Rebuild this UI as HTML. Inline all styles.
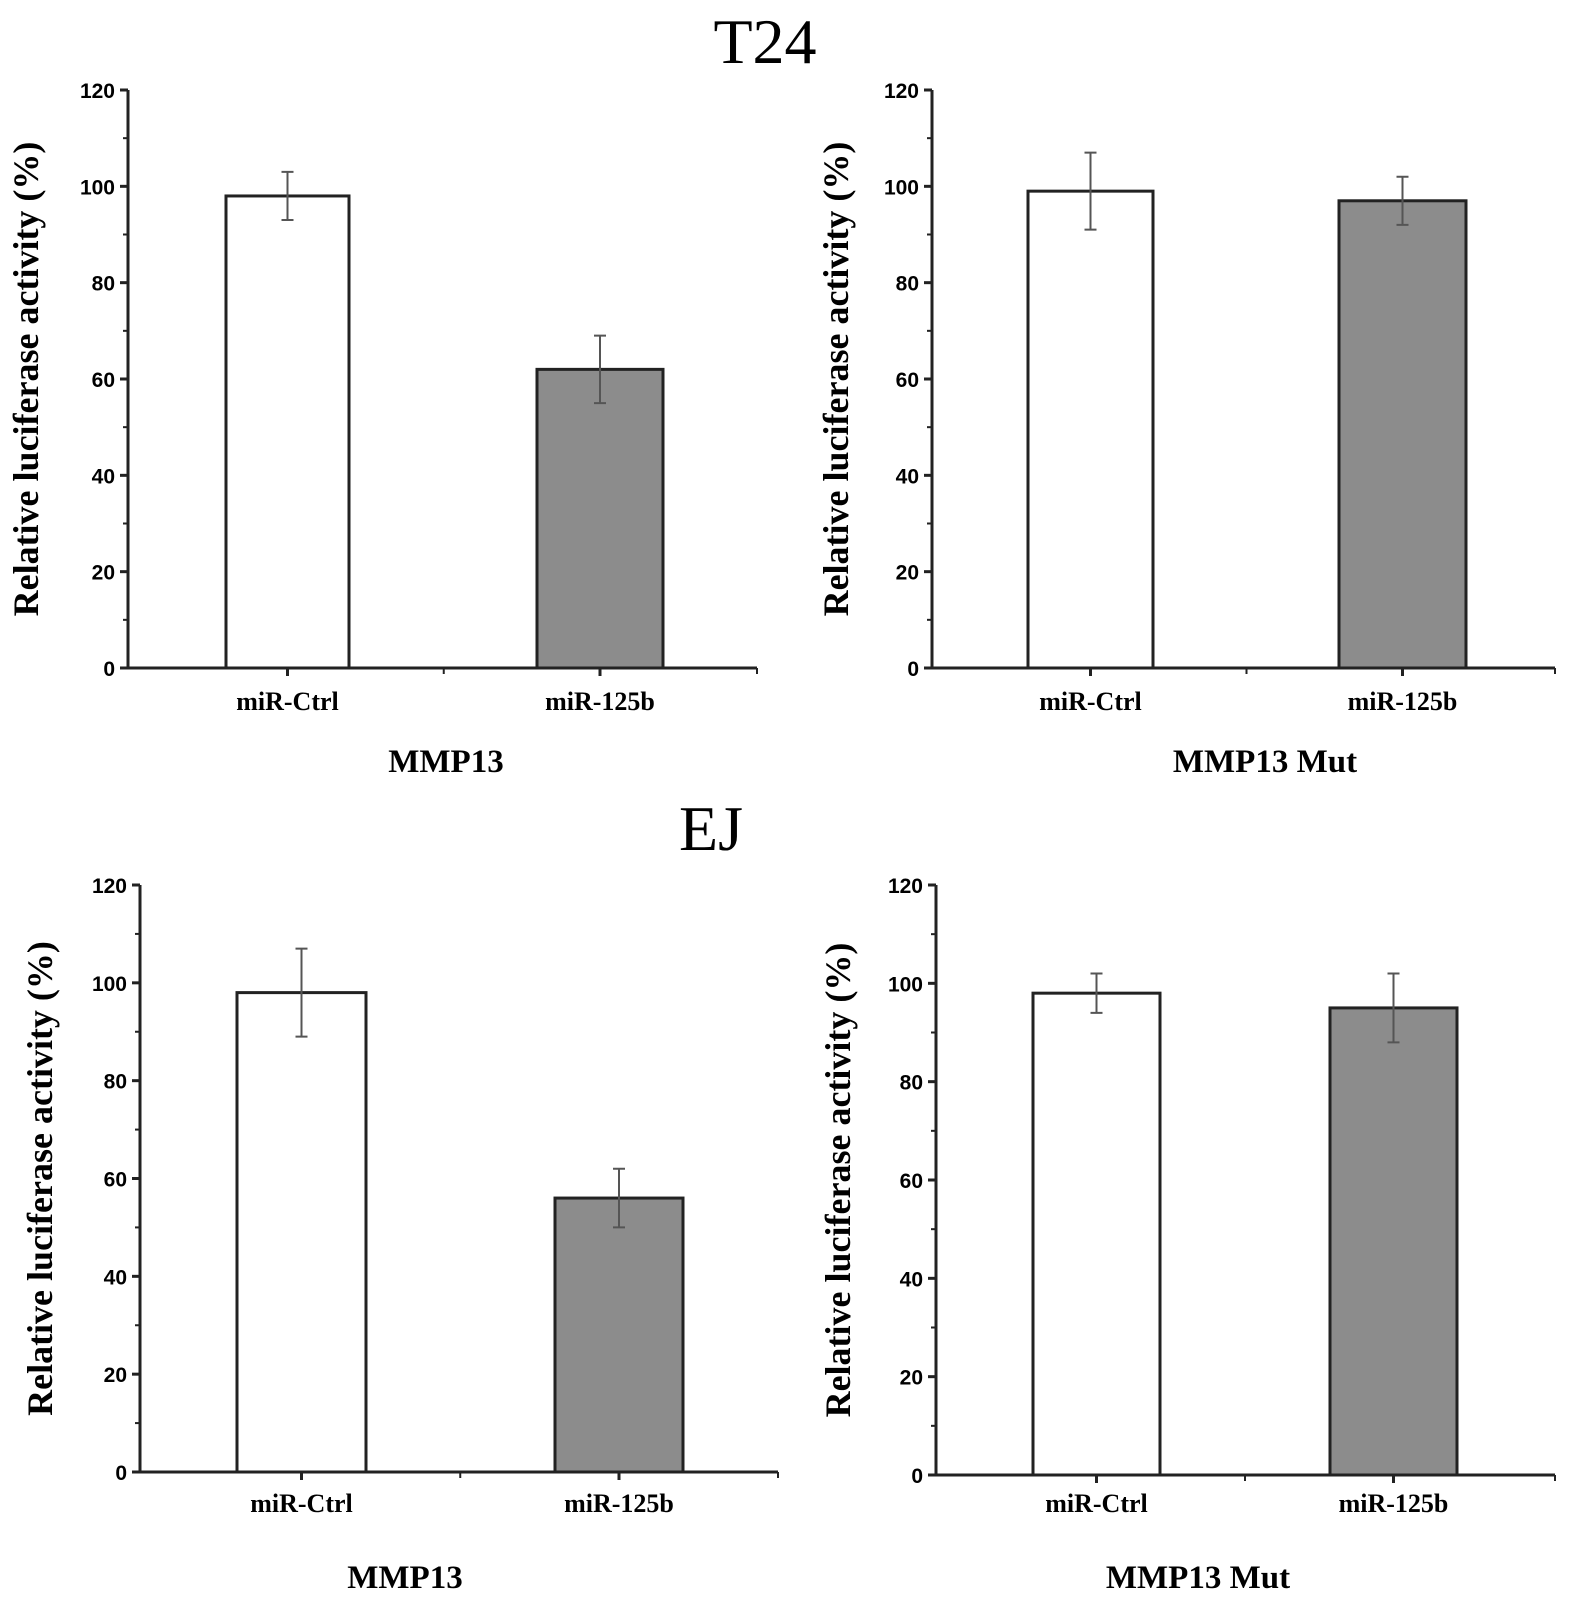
<!DOCTYPE html>
<html><head><meta charset="utf-8"><style>
body{margin:0;background:#fff;}
svg{display:block;}
</style></head><body>
<svg id="fig" width="1592" height="1602" xmlns="http://www.w3.org/2000/svg">
<text x="765" y="63" font-family="Liberation Serif, serif" font-size="64" text-anchor="middle">T24</text>
<text x="711" y="850" font-family="Liberation Serif, serif" font-size="64" text-anchor="middle">EJ</text>
</svg>
<script>
const categories = ["miR-Ctrl", "miR-125b"];
const yTicks = [0, 20, 40, 60, 80, 100, 120];
const t24Values = [98, 62];
const t24Errors = [5, 7];
const t24MutValues = [99, 97];
const t24MutErrors = [8, 5];
const ejValues = [98, 56];
const ejErrors = [9, 6];
const ejMutValues = [98, 95];
const ejMutErrors = [4, 7];
const panelTitles = ["MMP13", "MMP13 Mut", "MMP13", "MMP13 Mut"];

const NS = "http://www.w3.org/2000/svg";
const svg = document.getElementById('fig');
function mk(tag, attrs, parent) {
  const e = document.createElementNS(NS, tag);
  for (const k in attrs) e.setAttribute(k, attrs[k]);
  (parent || svg).appendChild(e);
  return e;
}
const panels = [
  {ax:128, xe:757, y0:668, y120:90, bars:[[226,349],[537,663]], vals:t24Values, errs:t24Errors, ytx:26, title:panelTitles[0], tx:446, ty:772, cy:710, key:'t24-mmp13'},
  {ax:932, xe:1555, y0:668, y120:90, bars:[[1028,1153],[1339,1466]], vals:t24MutValues, errs:t24MutErrors, ytx:836, title:panelTitles[1], tx:1265, ty:772, cy:710, key:'t24-mmp13-mut'},
  {ax:140, xe:778, y0:1472, y120:885, bars:[[237,366],[555,683]], vals:ejValues, errs:ejErrors, ytx:40, title:panelTitles[2], tx:405, ty:1588, cy:1512, key:'ej-mmp13'},
  {ax:936, xe:1555, y0:1475, y120:885, bars:[[1033,1160],[1330,1457]], vals:ejMutValues, errs:ejMutErrors, ytx:838, title:panelTitles[3], tx:1198, ty:1588, cy:1512, key:'ej-mmp13-mut'}
];
panels.forEach(p => {
  const g = mk('g', {});
  
  
  const yS = v => p.y0 - (v / 120) * (p.y0 - p.y120);
  p.vals.forEach((v, i) => {
    const [l, r] = p.bars[i];
    const b = mk('rect', {x:l, y:yS(v), width:r-l, height:p.y0-yS(v), fill: i===0?'#fff':'#8c8c8c', stroke:'#222', 'stroke-width':3}, g);
    
    
    const cx = (l + r) / 2, e = p.errs[i];
    const eb = mk('path', {d:`M${cx},${yS(v+e)}V${yS(v-e)}M${cx-6},${yS(v+e)}H${cx+6}M${cx-6},${yS(v-e)}H${cx+6}`, stroke:'#555', 'stroke-width':2, fill:'none'}, g);
    
    
    const lab = mk('text', {x:cx, y:p.cy, 'text-anchor':'middle', 'font-family':'Liberation Serif, serif', 'font-weight':'bold', 'font-size':26}, g);
    lab.textContent = categories[i];
    
    
    mk('line', {x1:cx, x2:cx, y1:p.y0, y2:p.y0+8, stroke:'#222', 'stroke-width':3}, g);
  });
  const mid = ((p.bars[0][0]+p.bars[0][1])/2 + (p.bars[1][0]+p.bars[1][1])/2)/2;
  mk('line', {x1:mid, x2:mid, y1:p.y0, y2:p.y0+6, stroke:'#222', 'stroke-width':2}, g);
  mk('line', {x1:p.xe, x2:p.xe, y1:p.y0, y2:p.y0+6, stroke:'#222', 'stroke-width':2}, g);
  const ax = mk('path', {d:`M${p.ax},${p.y120}V${p.y0}H${p.xe}`, stroke:'#222', 'stroke-width':3, fill:'none'}, g);
  
  
  yTicks.forEach(t => {
    mk('line', {x1:p.ax-8, x2:p.ax, y1:yS(t), y2:yS(t), stroke:'#222', 'stroke-width':3}, g);
    if (t < 120) mk('line', {x1:p.ax-5, x2:p.ax, y1:yS(t+10), y2:yS(t+10), stroke:'#222', 'stroke-width':2}, g);
    const tl = mk('text', {x:p.ax-13, y:yS(t)+8, 'text-anchor':'end', 'font-family':'Liberation Sans, sans-serif', 'font-weight':'bold', 'font-size':21}, g);
    tl.textContent = t;
    
    
  });
  const yc = (p.y0 + p.y120) / 2;
  const yt = mk('text', {x:p.ytx, y:yc, transform:`rotate(-90 ${p.ytx} ${yc})`, 'text-anchor':'middle', 'dominant-baseline':'central', 'font-family':'Liberation Serif, serif', 'font-weight':'bold', 'font-size':36}, g);
  yt.textContent = 'Relative luciferase activity (%)';
  
  
  const tt = mk('text', {x:p.tx, y:p.ty, 'text-anchor':'middle', 'font-family':'Liberation Serif, serif', 'font-weight':'bold', 'font-size':33}, g);
  tt.textContent = p.title;
  
  
});
</script>
</body></html>
